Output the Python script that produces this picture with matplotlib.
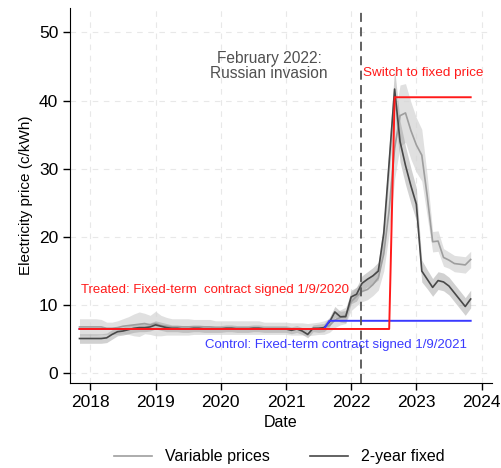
import numpy as np
import matplotlib.pyplot as plt

plt.rcParams['font.family'] = ['Liberation Sans', 'DejaVu Sans']

# monthly observations, Nov 2017 .. Nov 2023
start_year = 2017
start_month = 11
n_months = 73

# 2-year fixed contracts (c/kWh)
fixed = [5.1, 5.1, 5.1, 5.1, 5.1, 5.2, 5.7, 6.1, 6.2, 6.4, 6.6, 6.7,
         6.7, 6.8, 7.1, 6.9, 6.7, 6.6, 6.6, 6.5, 6.5, 6.6, 6.6, 6.5,
         6.5, 6.5, 6.5, 6.6, 6.6, 6.5, 6.5, 6.5, 6.6, 6.6, 6.5, 6.5,
         6.5, 6.5, 6.5, 6.3, 6.5, 6.2, 5.7, 6.6, 6.6, 6.7, 7.5, 9.0,
         8.3, 8.3, 11.2, 11.6, 13.2, 13.8, 14.3, 15.0, 20.5, 31.0, 41.7, 34.0,
         30.5, 27.5, 24.8, 15.0, 13.8, 12.6, 13.6, 13.4, 12.8, 11.8, 10.8, 9.8,
         10.9]
fixed_ci = [0.7, 0.7, 0.7, 0.7, 0.7, 0.7, 0.7, 0.6, 0.6, 0.6, 0.6, 0.6,
            0.6, 0.6, 0.6, 0.6, 0.6, 0.5, 0.5, 0.5, 0.5, 0.5, 0.5, 0.5,
            0.5, 0.5, 0.5, 0.5, 0.5, 0.5, 0.5, 0.5, 0.5, 0.5, 0.5, 0.5,
            0.5, 0.5, 0.5, 0.5, 0.5, 0.5, 0.5, 0.5, 0.6, 0.6, 0.7, 0.8,
            0.8, 0.9, 1.0, 1.0, 1.1, 1.1, 1.2, 1.3, 1.8, 2.5, 3.0, 3.0,
            2.8, 2.6, 2.4, 1.6, 1.4, 1.3, 1.3, 1.3, 1.3, 1.3, 1.3, 1.3,
            1.3]

# variable-price contracts (c/kWh)
variable = [6.8, 6.8, 6.8, 6.8, 6.8, 6.6, 6.6, 6.7, 6.9, 7.0, 7.1, 7.2,
            7.3, 7.1, 7.3, 7.0, 6.9, 6.8, 6.8, 6.8, 6.8, 6.8, 6.8, 6.8,
            6.8, 6.7, 6.7, 6.7, 6.7, 6.7, 6.7, 6.7, 6.7, 6.7, 6.6, 6.6,
            6.6, 6.6, 6.6, 6.5, 6.5, 6.5, 6.4, 6.5, 6.6, 6.7, 7.0, 7.8,
            8.2, 8.5, 10.5, 11.3, 12.0, 12.3, 13.0, 14.0, 17.5, 24.0, 33.0, 37.8,
            38.2, 35.6, 33.5, 32.0, 26.0, 19.3, 19.4, 17.0, 16.6, 16.1, 16.0, 15.9,
            16.7]
variable_ci = [1.2, 1.2, 1.2, 1.2, 1.1, 0.9, 0.9, 1.0, 1.1, 1.3, 1.6, 1.8,
               1.5, 1.4, 1.8, 1.5, 1.3, 1.2, 1.2, 1.2, 1.2, 1.1, 1.1, 1.1,
               1.1, 1.0, 1.0, 1.0, 1.0, 1.0, 1.0, 1.0, 1.0, 1.0, 0.9, 0.9,
               0.9, 0.9, 0.9, 0.9, 0.9, 0.9, 0.9, 0.9, 0.9, 1.0, 1.0, 1.1,
               1.1, 1.2, 1.3, 1.4, 1.5, 1.5, 1.6, 1.8, 2.5, 3.5, 4.5, 4.5,
               4.3, 4.2, 4.0, 3.8, 3.0, 1.5, 1.5, 1.3, 1.2, 1.2, 1.2, 1.2,
               1.2]

# treated / control contract price paths
treated = [6.5] * 58 + [40.5] * 15
control = [6.5] * 46 + [7.7] * 27

invasion = 2022.15

t = start_year + (start_month - 1) / 12 + np.arange(n_months) / 12
fixed = np.array(fixed)
variable = np.array(variable)
fixed_ci = np.array(fixed_ci)
variable_ci = np.array(variable_ci)

fig = plt.figure(figsize=(5.01, 4.68), dpi=100)
ax = fig.add_axes([0.14, 0.182, 0.842, 0.801])

ax.fill_between(t, variable - variable_ci, variable + variable_ci,
                color='#d6d6d6', alpha=0.75, lw=0)
ax.fill_between(t, fixed - fixed_ci, fixed + fixed_ci,
                color='#9a9a9a', alpha=0.45, lw=0)
ax.plot(t, variable, color='#9e9e9e', lw=1.2, label='Variable prices')
ax.plot(t, fixed, color='#484848', lw=1.2, label='2-year fixed')
ax.plot(t, control, color='#3a3aff', lw=1.4)
ax.plot(t, treated, color='#ff1a1a', lw=1.4)
ax.axvline(invasion, color='#555555', lw=1.3, ls=(0, (5, 3)))

ax.text(2020.74, 45.1, 'February 2022:\nRussian invasion', color='#505050',
        fontsize=11.2, ha='center', va='center', linespacing=1.0)
ax.text(2022.18, 44.0, 'Switch to fixed price', color='#ff1a1a',
        fontsize=9.7, ha='left', va='center')
ax.text(2017.85, 12.2, 'Treated: Fixed-term  contract signed 1/9/2020',
        color='#ff1a1a', fontsize=9.5, ha='left', va='center')
ax.text(2019.76, 4.15, 'Control: Fixed-term contract signed 1/9/2021',
        color='#3a3aff', fontsize=9.5, ha='left', va='center')

ax.set_xlim(2017.69, 2024.16)
ax.set_ylim(-1.4, 53.6)
ax.set_xticks(range(2018, 2025))
ax.set_yticks(range(0, 51, 10))
ax.tick_params(labelsize=12.5, length=5, width=1, direction='out')
ax.grid(True, color='#e8e8e8', lw=0.8, ls=(0, (5, 5)))
ax.set_axisbelow(True)
ax.spines['right'].set_visible(False)
ax.spines['top'].set_visible(False)
ax.set_xlabel('Date', fontsize=11.5)
ax.set_ylabel('Electricity price (c/kWh)', fontsize=11)

fig.legend(loc='center', bbox_to_anchor=(0.557, 0.024), ncol=2,
           frameon=False, fontsize=11.5, handlelength=2.4, columnspacing=2.5)

fig.savefig('out.png', dpi=100)
